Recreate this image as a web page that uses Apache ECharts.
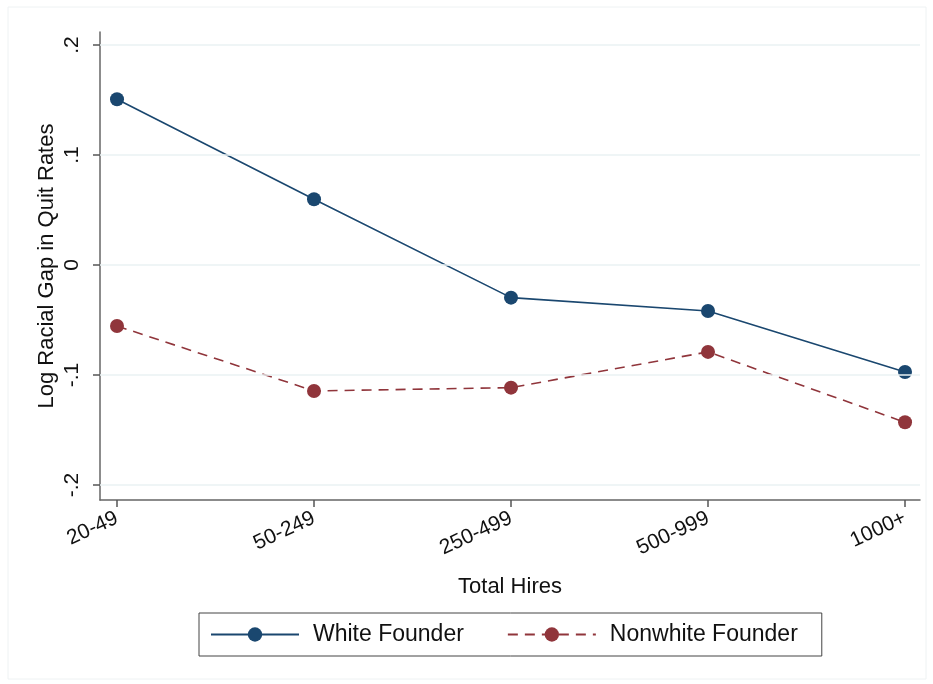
<!DOCTYPE html>
<html>
<head>
<meta charset="utf-8">
<script src="https://cdn.jsdelivr.net/npm/echarts@6/dist/echarts.min.js"></script>
<style>
  * { margin: 0; padding: 0; }
  body { background: #fff; }
</style>
</head>
<body>
<div id="main" style="width: 933px; height: 684px;"></div>
<script>
  // categories + values
  var hires = ['20-49', '50-249', '250-499', '500-999', '1000+']
  var whiteFounder = [0.1506, 0.0597, -0.0297, -0.0418, -0.0973]
  var nonwhiteFounder = [-0.0555, -0.1145, -0.1115, -0.079, -0.143]
  var yTicks = [-0.2, -0.1, 0, 0.1, 0.2]
  var xTicks = [0, 1, 2, 3, 4]

  function pairs(arr) {
    return arr.map(function (v, i) { return [i, v] })
  }

  // stata style: .2, -.1, 0
  function fmtY(v) {
    if (Math.abs(v) < 1e-9) return '0'
    return (v < 0 ? '-' : '') + Math.abs(v).toFixed(1).replace(/^0/, '')
  }

  var myChart = echarts.init(document.getElementById('main'))
  myChart.setOption({
    backgroundColor: '#fff',
    animation: false,
    textStyle: { fontFamily: 'Liberation Sans, Arial, sans-serif', color: '#111' },
    graphic: [{
      type: 'rect',
      shape: { x: 8, y: 7, width: 918, height: 672 },
      style: { fill: 'none', stroke: '#eef2f3', lineWidth: 1 },
      silent: true
    }],
    grid: { left: 100, right: 13, top: 32, bottom: 184 },
    xAxis: {
      type: 'value',
      min: -0.0863,
      max: 4.076,
      name: 'Total Hires',
      nameLocation: 'middle',
      nameGap: 76,
      nameMoveOverlap: false,
      nameTextStyle: { fontSize: 22, color: '#111' },
      axisLine: { show: true, onZero: false, lineStyle: { color: '#666', width: 1.5 } },
      axisTick: { show: true, length: 7, customValues: xTicks, lineStyle: { color: '#555', width: 1.5 } },
      axisLabel: {
        customValues: xTicks,
        rotate: 25,
        fontSize: 21,
        color: '#111',
        margin: 17,
        formatter: function (v) { return hires[Math.round(v)] }
      },
      splitLine: { show: false }
    },
    yAxis: {
      type: 'value',
      min: -0.21364,
      max: 0.2118,
      name: 'Log Racial Gap in Quit Rates',
      nameLocation: 'middle',
      nameGap: 42,
      nameMoveOverlap: false,
      nameTextStyle: { fontSize: 22, color: '#111' },
      axisLine: { show: true, onZero: false, lineStyle: { color: '#666', width: 1.5 } },
      axisTick: { show: true, length: 7, customValues: yTicks, lineStyle: { color: '#555', width: 1.5 } },
      axisLabel: {
        customValues: yTicks,
        rotate: 90,
        fontSize: 21,
        color: '#111',
        margin: 17,
        formatter: fmtY
      },
      splitLine: { show: false }
    },
    legend: {
      left: 199,
      top: 613,
      orient: 'horizontal',
      padding: [10, 24, 10, 11],
      itemGap: 43,
      itemWidth: 88,
      itemHeight: 18,
      borderColor: '#444',
      borderWidth: 1,
      textStyle: { fontSize: 23, color: '#111', padding: [0, 0, 0, 9] },
      data: ['White Founder', 'Nonwhite Founder']
    },
    series: [
      {
        // light horizontal grid lines
        type: 'line',
        data: [],
        silent: true,
        markLine: {
          silent: true,
          symbol: 'none',
          label: { show: false },
          lineStyle: { color: '#eaf2f3', type: 'solid', width: 1.5 },
          data: yTicks.map(function (t) { return { yAxis: t } })
        }
      },
      {
        name: 'White Founder',
        type: 'line',
        data: pairs(whiteFounder),
        symbol: 'circle',
        symbolSize: 14,
        lineStyle: { color: '#1a476f', width: 1.6 },
        itemStyle: { color: '#1a476f' }
      },
      {
        name: 'Nonwhite Founder',
        type: 'line',
        data: pairs(nonwhiteFounder),
        symbol: 'circle',
        symbolSize: 14,
        lineStyle: { color: '#90353b', width: 1.6, type: [10, 7] },
        itemStyle: { color: '#90353b' }
      }
    ]
  })
</script>
</body>
</html>
